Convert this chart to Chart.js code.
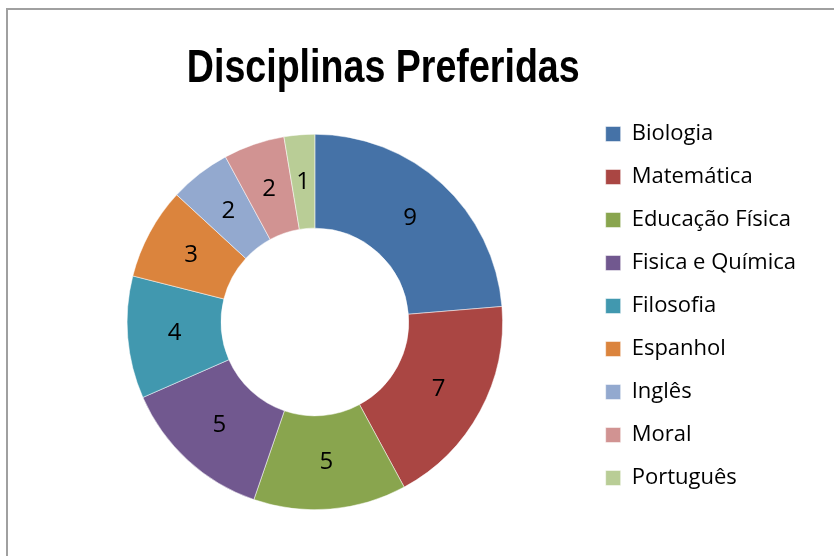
<!DOCTYPE html>
<html>
<head>
<meta charset="utf-8">
<script src="https://cdn.jsdelivr.net/npm/chart.js@4.4.1/dist/chart.umd.min.js"></script>
<style>
    html, body { margin: 0; padding: 0; background: #fff; }
    #wrap { position: relative; width: 834px; height: 556px; overflow: hidden; }
    #frame {
        position: absolute; left: 6px; top: 8px; right: -10px; bottom: -10px;
        border-left: 2px solid #a0a0a0; border-top: 2px solid #a0a0a0;
        pointer-events: none;
    }
    canvas { position: absolute; left: 0; top: 0; }
</style>
</head>
<body>
<div id="wrap">
    <canvas id="chart" width="834" height="556"></canvas>
    <div id="frame"></div>
</div>
<script>
const TITLE = 'Disciplinas Preferidas';
const disciplinas = ['Biologia', 'Matemática', 'Educação Física', 'Fisica e Química', 'Filosofia', 'Espanhol', 'Inglês', 'Moral', 'Português'];
const votos = [9, 7, 5, 5, 4, 3, 2, 2, 1];
const cores = ['#4572A7', '#AA4643', '#89A54E', '#71588F', '#4198AF', '#DB843D', '#93A9CF', '#D19392', '#B9CD96'];

const LABEL_FONT = '"Open Sans", "Noto Sans", sans-serif';

// valores dentro das fatias (centro de cada arco)
const sliceValues = {
    id: 'sliceValues',
    afterDatasetsDraw(chart) {
        const { ctx } = chart;
        const meta = chart.getDatasetMeta(0);
        ctx.save();
        ctx.font = '24px ' + LABEL_FONT;
        ctx.fillStyle = '#000';
        ctx.textAlign = 'center';
        ctx.textBaseline = 'middle';
        meta.data.forEach((arc, i) => {
            const p = arc.getCenterPoint();
            ctx.fillText(String(chart.data.datasets[0].data[i]), p.x, p.y);
        });
        ctx.restore();
    }
};

// título numa caixa de layout própria; sem Arial Narrow, comprime a Liberation Sans
const narrowTitle = {
    id: 'narrowTitle',
    start(chart) {
        const box = {
            position: 'top',
            fullSize: false,
            weight: 2000,
            options: {},
            isHorizontal: () => true,
            update(maxWidth) {
                this.width = maxWidth;
                this.height = 134;
            },
            draw() {
                const { ctx } = chart;
                ctx.save();
                ctx.translate(this.right - 5, this.top + 82);
                ctx.scale(0.8, 1);
                ctx.font = 'bold 47px "Liberation Sans", Arial, sans-serif';
                ctx.fillStyle = '#000';
                ctx.textAlign = 'right';
                ctx.textBaseline = 'alphabetic';
                ctx.fillText(TITLE, 0, 0);
                ctx.restore();
            }
        };
        Chart.layouts.addBox(chart, box);
    }
};

new Chart(document.getElementById('chart'), {
    type: 'doughnut',
    data: {
        labels: disciplinas,
        datasets: [{
            data: votos,
            backgroundColor: cores,
            borderColor: '#ffffff',
            borderWidth: 0.5,
            hoverOffset: 0
        }]
    },
    options: {
        responsive: false,
        animation: false,
        cutout: '50%',
        layout: { padding: { left: 45, right: 28, top: 0, bottom: 46 } },
        plugins: {
            title: { display: false },
            legend: {
                position: 'right',
                align: 'end',
                labels: {
                    boxWidth: 15,
                    boxHeight: 15,
                    padding: 21,
                    color: '#000',
                    font: { family: LABEL_FONT, size: 22 }
                }
            },
            tooltip: { enabled: false }
        }
    },
    plugins: [sliceValues, narrowTitle]
});
</script>
</body>
</html>
